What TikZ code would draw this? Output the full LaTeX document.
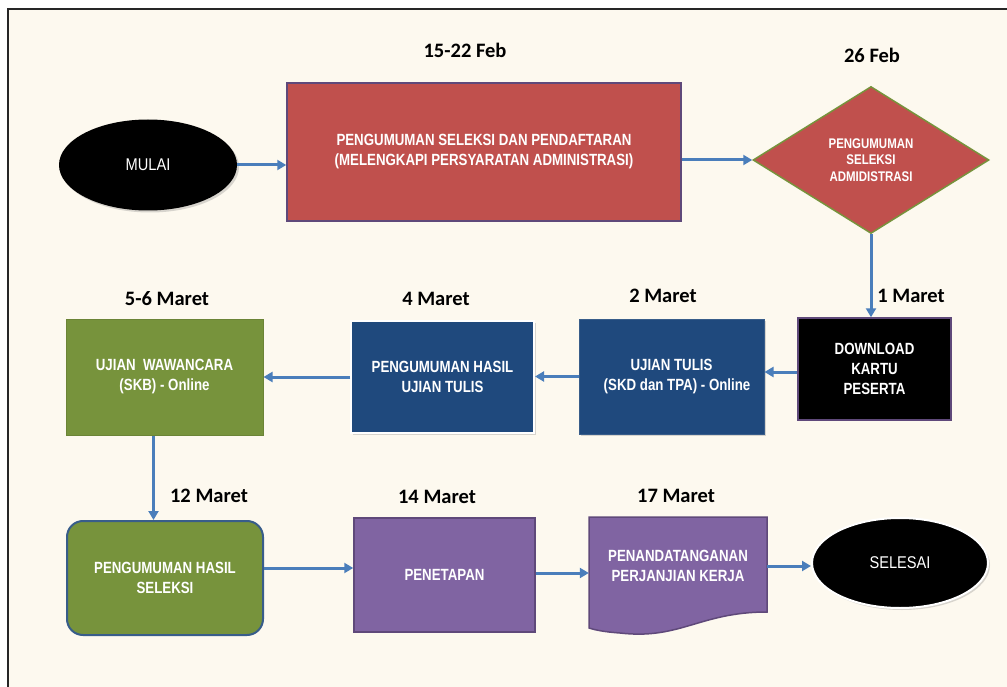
\documentclass[tikz,border=0pt]{standalone}
\usepackage{fontspec}
\setmainfont{Liberation Sans}
\newfontfamily\bodyfont[FakeStretch=0.82]{Liberation Sans}
\newfontfamily\termfont[FakeStretch=0.86]{Liberation Sans}
\newfontfamily\datefont{Carlito}
\usetikzlibrary{arrows.meta,shapes.geometric,shadows}
\definecolor{bg}{HTML}{FDF9EF}
\definecolor{redf}{HTML}{C0504D}
\definecolor{purpb}{HTML}{5F497A}
\definecolor{greenf}{HTML}{77933C}
\definecolor{bluef}{HTML}{1F497D}
\definecolor{blueb}{HTML}{385D8A}
\definecolor{purpf}{HTML}{8064A2}
\definecolor{arrowc}{HTML}{4A7EBB}
\tikzset{
  datelbl/.style={font=\datefont\bfseries\fontsize{20.5}{24}\selectfont, text=black, inner sep=0pt},
  boxtxt/.style={font=\bodyfont\bfseries\fontsize{16.2}{20}\selectfont, text=white, align=center, inner sep=0pt},
  procbox/.style={boxtxt, rectangle, line width=1.5pt},
  termin/.style={ellipse, fill=black, text=white, font=\termfont\fontsize{17}{20}\selectfont, inner sep=0pt},
  flow/.style={draw=arrowc, line width=3pt, -{Triangle[length=9pt,width=10pt]}},
  softshadow/.style={drop shadow={opacity=0.3, shadow xshift=2pt, shadow yshift=-2pt}}
}
\begin{document}
\begin{tikzpicture}[x=1pt,y=-1pt]
\useasboundingbox (0,0) rectangle (1007,687);
\fill[white] (0,0) rectangle (1007,687);
\draw[fill=bg, line width=2pt, draw=black!85] (8,9) rectangle (1015,700);

% row 1
\node[termin, softshadow, minimum width=178pt, minimum height=91pt] (mulai) at (148,165) {MULAI};
\node[procbox, fill=redf, draw=purpb, minimum width=394pt, minimum height=138pt] (daftar) at (484,152)
  {PENGUMUMAN SELEKSI DAN PENDAFTARAN\\(MELENGKAPI PERSYARATAN ADMINISTRASI)};
\node[datelbl] (d1) at (465,50) {15-22 Feb};
\node[diamond, fill=redf, draw=greenf, line width=1.5pt, minimum width=236pt, minimum height=147pt, inner sep=0pt,
  text=white, align=center, font=\bodyfont\bfseries\fontsize{14}{16.5}\selectfont] (admin) at (871,160)
  {PENGUMUMAN\\SELEKSI\\ADMIDISTRASI};
\node[datelbl] (d2) at (872,55) {26 Feb};

% row 2
\node[procbox, fill=black, draw=purpb, minimum width=153pt, minimum height=102pt] (kartu) at (874.5,369)
  {DOWNLOAD\\KARTU\\PESERTA};
\node[datelbl] (d3) at (911,296) {1 Maret};
\node[procbox, fill=bluef, draw=blueb, line width=1pt, softshadow, minimum width=185pt, minimum height=115pt] (tulis) at (671.5,376.5)
  {UJIAN TULIS\\\ \ \ (SKD dan TPA) - Online};
\node[datelbl] (d4) at (663,296) {2 Maret};
\node[procbox, fill=bluef, draw=white, line width=2pt, softshadow, minimum width=183pt, minimum height=112pt] (hasiltulis) at (442.5,377)
  {PENGUMUMAN HASIL\\UJIAN TULIS};
\node[datelbl] (d5) at (436,299) {4 Maret};
\node[procbox, fill=greenf, draw=greenf!90!black, line width=1pt, minimum width=197pt, minimum height=116pt] (wawan) at (164.5,377)
  {UJIAN\ \ WAWANCARA\\(SKB) - Online};
\node[datelbl] (d6) at (167,299) {5-6 Maret};

% row 3
\node[procbox, fill=greenf, draw=blueb, line width=2pt, rounded corners=16pt, minimum width=196pt, minimum height=114pt] (hasilsel) at (165,578)
  {PENGUMUMAN HASIL\\SELEKSI};
\node[datelbl] (d7) at (209,496) {12 Maret};
\node[procbox, fill=purpf, draw=purpb, minimum width=181pt, minimum height=114pt] (tetap) at (444.5,575)
  {PENETAPAN};
\node[datelbl] (d8) at (437,497) {14 Maret};
\fill[purpf] (589,517) -- (767,517) -- (767,612) .. controls (700,612) and (680,640) .. (620,633) .. controls (605,632) and (595,630) .. (589,628) -- cycle;
\draw[purpb, line width=1.5pt] (589,517) -- (767,517) -- (767,612) .. controls (700,612) and (680,640) .. (620,633) .. controls (605,632) and (595,630) .. (589,628) -- cycle;
\node[boxtxt, minimum width=178pt, minimum height=100pt] (janji) at (678,566)
  {PENANDATANGANAN\\PERJANJIAN KERJA};
\node[datelbl] (d9) at (676,496) {17 Maret};
\node[termin, draw=white, line width=2pt, softshadow, minimum width=176pt, minimum height=90pt] (selesai) at (900,563) {SELESAI};

% connectors
\draw[flow] (mulai.east) -- (mulai.east -| daftar.west);
\draw[flow] (daftar.east |- admin.west) -- (admin.west);
\draw[flow] (admin.south) -- (admin.south |- kartu.north);
\draw[flow] ([yshift=-3pt]kartu.west) -- ([yshift=-3pt]kartu.west -| tulis.east);
\draw[flow] (tulis.west) -- (tulis.west -| hasiltulis.east);
\draw[flow] (hasiltulis.west) -- (hasiltulis.west -| wawan.east);
\draw[flow] ([xshift=-11pt]wawan.south) -- ([xshift=-11pt]wawan.south |- hasilsel.north);
\draw[flow] ([yshift=10pt]hasilsel.east) -- ([yshift=10pt]hasilsel.east -| tetap.west);
\draw[flow] ([yshift=2pt]tetap.east) -- ([yshift=2pt]tetap.east -| janji.west);
\draw[flow] (janji.east) -- (janji.east -| selesai.west);
\end{tikzpicture}
\end{document}
